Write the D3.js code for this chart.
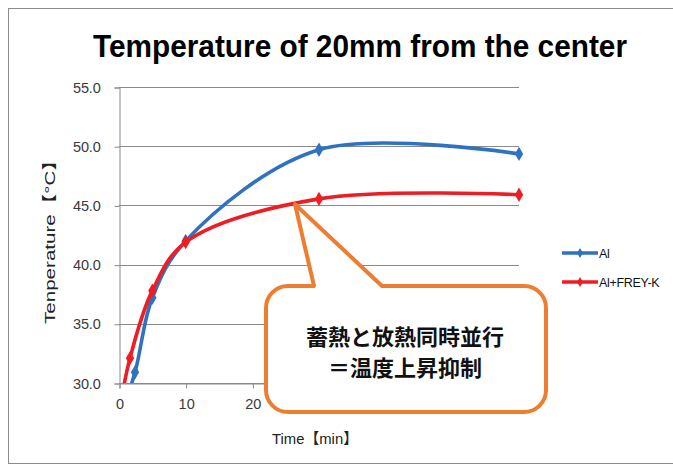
<!DOCTYPE html>
<html>
<head>
<meta charset="utf-8">
<script src="https://cdn.jsdelivr.net/npm/d3@7"></script>
<style>
  html, body { margin: 0; padding: 0; background: #fff; }
  svg { display: block; }
</style>
</head>
<body>
<svg id="chart" width="673" height="467"></svg>
<script>
// Measurement times [min] and temperatures [°C] for each specimen
const timesAl = [0, 2.4, 5, 10, 30, 60];
const tempAl = [26.8, 30.9, 37.2, 42.0, 49.7, 49.35];
const timesFrey = [0, 1.65, 5, 10, 30, 60];
const tempFrey = [27.5, 32.1, 37.8, 41.9, 45.55, 45.9];

const seriesNames = ["Al", "Al+FREY-K"];
const seriesColors = ["#2e72c0", "#ee1c23"];

const xTicks = [0, 10, 20, 30, 40, 50, 60];
const yTicks = [30, 35, 40, 45, 50, 55];

const titleText = "Temperature of 20mm from the center";
const xTitle = "Time【min】";
const yTitle = "Tenperature【°C】";
const noteLines = ["蓄熱と放熱同時並行", "＝温度上昇抑制"];

const svg = d3.select("#chart");
const W = 673, H = 467;

const x = d3.scaleLinear().domain([0, 60]).range([119, 519]);
const y = d3.scaleLinear().domain([30, 55]).range([383, 87]);

// Outer chart frame
svg.append("rect")
  .attr("x", 8.5).attr("y", 8.5)
  .attr("width", 720).attr("height", 455)
  .attr("fill", "#fff").attr("stroke", "#8c8c8c").attr("stroke-width", 1);

// Title
svg.append("text")
  .attr("x", 360).attr("y", 57)
  .attr("text-anchor", "middle")
  .attr("font-family", "'Liberation Sans', Arial, sans-serif")
  .attr("font-weight", "bold")
  .attr("font-size", 32)
  .attr("textLength", 534)
  .attr("lengthAdjust", "spacingAndGlyphs")
  .attr("fill", "#000")
  .text(titleText);

// Horizontal gridlines
svg.append("g")
  .selectAll("line")
  .data(yTicks)
  .join("line")
  .attr("x1", x(0)).attr("x2", x(60))
  .attr("y1", d => Math.round(y(d)) + 0.5)
  .attr("y2", d => Math.round(y(d)) + 0.5)
  .attr("stroke", "#8a8a8a").attr("stroke-width", 1);

// Y axis
const yAxis = d3.axisLeft(y).tickValues(yTicks).tickSize(5).tickFormat(d3.format(".1f"));
const gy = svg.append("g")
  .attr("transform", `translate(${x(0) + 0.5},0.5)`)
  .call(yAxis);
gy.attr("font-size", 14.5);
gy.select(".domain").attr("stroke", "#8a8a8a");
gy.selectAll(".tick line").attr("stroke", "#8a8a8a");
gy.selectAll(".tick text")
  .attr("font-family", "'Liberation Sans', Arial, sans-serif")
  .attr("font-size", 14.5)
  .attr("fill", "#3a3a3a")
  .attr("x", -19)
  .attr("letter-spacing", -0.2);

// X axis
const xAxis = d3.axisBottom(x).tickValues(xTicks).tickSize(5).tickFormat(d3.format("d"));
const gx = svg.append("g")
  .attr("transform", `translate(0.5,${Math.round(y(30)) + 0.5})`)
  .call(xAxis);
gx.attr("font-size", 14.5);
gx.select(".domain").attr("stroke", "#8a8a8a");
gx.selectAll(".tick line").attr("stroke", "#8a8a8a");
gx.selectAll(".tick text")
  .attr("font-family", "'Liberation Sans', Arial, sans-serif")
  .attr("font-size", 14.5)
  .attr("fill", "#3a3a3a")
  .attr("y", 15);

// Axis titles
svg.append("text")
  .attr("transform", "translate(55,237) rotate(-90)")
  .attr("text-anchor", "middle")
  .attr("font-family", "'Liberation Sans', 'Noto Sans CJK JP', sans-serif")
  .attr("font-size", 15)
  .attr("textLength", 174)
  .attr("lengthAdjust", "spacingAndGlyphs")
  .attr("fill", "#222")
  .text(yTitle);

svg.append("text")
  .attr("x", 315).attr("y", 444)
  .attr("text-anchor", "middle")
  .attr("font-family", "'Liberation Sans', 'Noto Sans CJK JP', sans-serif")
  .attr("font-size", 15)
  .attr("textLength", 86)
  .attr("lengthAdjust", "spacingAndGlyphs")
  .attr("fill", "#222")
  .text(xTitle);

// Clip lines at the value axis minimum
svg.append("clipPath").attr("id", "plotClip")
  .append("rect").attr("x", 0).attr("y", 60).attr("width", W).attr("height", y(30) - 60);

const line = d3.line()
  .x(d => x(d[0])).y(d => y(d[1]))
  .curve(d3.curveCatmullRom.alpha(0.5));

const series = [
  { name: seriesNames[0], color: seriesColors[0], pts: d3.zip(timesAl, tempAl) },
  { name: seriesNames[1], color: seriesColors[1], pts: d3.zip(timesFrey, tempFrey) }
];

const diamond = d3.symbol().type(d3.symbolDiamond).size(60);

const plot = svg.append("g").attr("clip-path", "url(#plotClip)");
series.forEach(s => {
  plot.append("path")
    .attr("d", line(s.pts))
    .attr("fill", "none")
    .attr("stroke", s.color)
    .attr("stroke-width", 3.6)
    .attr("stroke-linejoin", "round");
  plot.selectAll(null)
    .data(s.pts.filter(p => p[1] >= 30))
    .join("path")
    .attr("transform", p => `translate(${x(p[0])},${y(p[1])})`)
    .attr("d", diamond)
    .attr("fill", s.color);
});

// Legend
const legend = svg.append("g");
series.forEach((s, i) => {
  const ly = 253 + i * 29;
  legend.append("line")
    .attr("x1", 562).attr("x2", 598).attr("y1", ly).attr("y2", ly)
    .attr("stroke", s.color).attr("stroke-width", 3.6);
  legend.append("path")
    .attr("transform", `translate(580,${ly})`)
    .attr("d", d3.symbol().type(d3.symbolDiamond).size(30))
    .attr("fill", s.color);
  legend.append("text")
    .attr("x", 599).attr("y", ly + 4.5)
    .attr("font-family", "'Liberation Sans', Arial, sans-serif")
    .attr("font-size", 12.5)
    .attr("letter-spacing", -0.3)
    .attr("fill", "#111")
    .text(s.name);
});

// Speech-bubble callout pointing at the Al+FREY-K curve
const bx0 = 266, by0 = 286, bx1 = 546, by1 = 412, r = 22;
const tip = [x(26.4), y(45.1)];
const pL = 314, pR = 382;
const bubble = d3.path();
bubble.moveTo(bx0 + r, by0);
bubble.lineTo(pL, by0);
bubble.lineTo(tip[0], tip[1]);
bubble.lineTo(pR, by0);
bubble.lineTo(bx1 - r, by0);
bubble.arcTo(bx1, by0, bx1, by0 + r, r);
bubble.lineTo(bx1, by1 - r);
bubble.arcTo(bx1, by1, bx1 - r, by1, r);
bubble.lineTo(bx0 + r, by1);
bubble.arcTo(bx0, by1, bx0, by1 - r, r);
bubble.lineTo(bx0, by0 + r);
bubble.arcTo(bx0, by0, bx0 + r, by0, r);
bubble.closePath();

svg.append("path")
  .attr("d", bubble.toString())
  .attr("fill", "#fff")
  .attr("stroke", "#ed7d31")
  .attr("stroke-width", 4)
  .attr("stroke-linejoin", "round");

// Two-line note inside the bubble
svg.append("g")
  .selectAll("text")
  .data(noteLines)
  .join("text")
  .attr("x", 405)
  .attr("y", (d, i) => 345 + i * 31)
  .attr("text-anchor", "middle")
  .attr("font-family", "'Noto Sans CJK JP', sans-serif")
  .attr("font-weight", "bold")
  .attr("font-size", 22)
  .attr("fill", "#111")
  .text(d => d);
</script>
</body>
</html>
